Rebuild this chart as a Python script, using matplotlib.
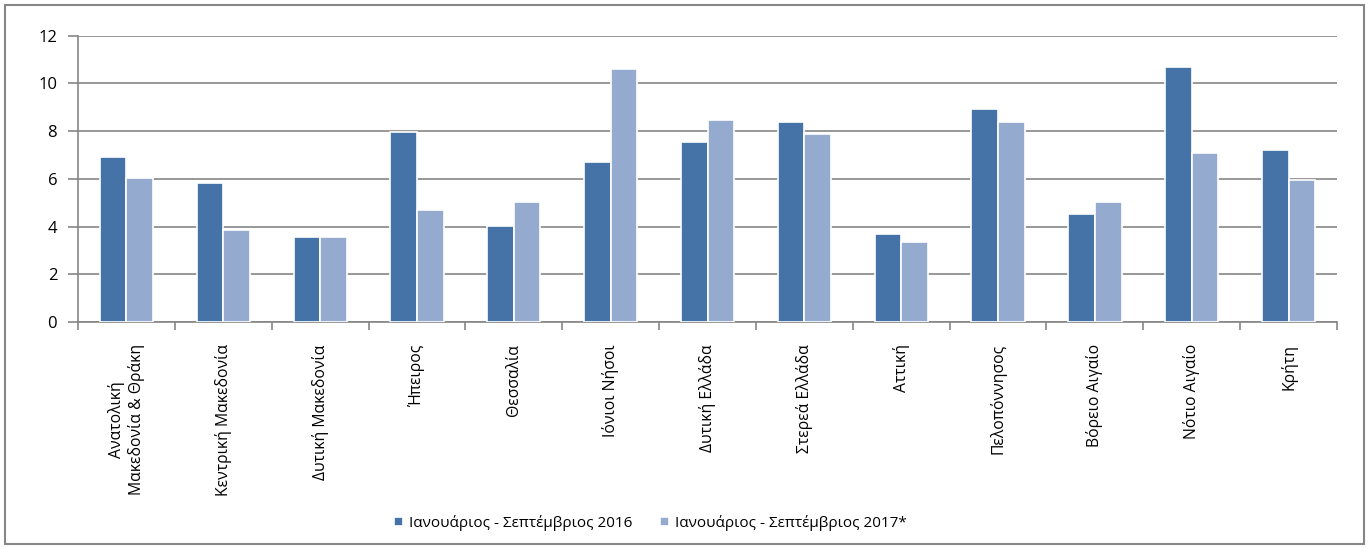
import numpy as np
import matplotlib.pyplot as plt
from matplotlib.patches import Rectangle

regions = ["Ανατολική\nΜακεδονία & Θράκη", "Κεντρική Μακεδονία", "Δυτική Μακεδονία",
           "Ήπειρος", "Θεσσαλία", "Ιόνιοι Νήσοι", "Δυτική Ελλάδα", "Στερεά Ελλάδα",
           "Αττική", "Πελοπόννησος", "Βόρειο Αιγαίο", "Νότιο Αιγαίο", "Κρήτη"]
v2016 = [6.9, 5.82, 3.58, 7.95, 4.03, 6.72, 7.56, 8.39, 3.68, 8.91, 4.52, 10.70, 7.21]
v2017 = [6.05, 3.87, 3.58, 4.69, 5.01, 10.61, 8.47, 7.86, 3.34, 8.37, 5.03, 7.10, 5.95]
labels = ["Ιανουάριος - Σεπτέμβριος 2016", "Ιανουάριος - Σεπτέμβριος 2017*"]

plt.rcParams['font.family'] = ['Open Sans', 'DejaVu Sans']

fig = plt.figure(figsize=(13.72, 5.48), dpi=100)
ax = fig.add_axes([0.0569, 0.4124, 0.9176, 0.5225])

x = np.arange(len(regions))
w = 0.275
ax.bar(x - w/2, v2016, w, color='#4572A7', edgecolor='white', linewidth=1.2, label=labels[0], zorder=3)
ax.bar(x + w/2, v2017, w, color='#95AACF', edgecolor='white', linewidth=1.2, label=labels[1], zorder=3)

ax.set_xlim(-0.5, len(regions) - 0.5)
ax.set_ylim(0, 12)
ax.set_yticks(np.arange(0, 13, 2))
ax.yaxis.grid(True, color='#868686', linewidth=1.2, zorder=0)
ax.tick_params(axis='y', length=7, color='#868686', width=1.2, labelsize=12, pad=8)

ax.set_xticks(x)
ax.set_xticklabels(regions, rotation=90, fontsize=11.3, ha='center', va='top', multialignment='center')
ax.tick_params(axis='x', length=0, pad=16)
ax.set_xticks(np.arange(-0.5, len(regions)), minor=True)
ax.tick_params(axis='x', which='minor', length=6, color='#868686', width=1.2)

for s in ['top', 'right']:
    ax.spines[s].set_visible(False)
for s in ['left', 'bottom']:
    ax.spines[s].set_color('#868686')
    ax.spines[s].set_linewidth(1.2)

ax.legend(loc='center', bbox_to_anchor=(0.474, 0.046), bbox_transform=fig.transFigure,
          ncol=2, frameon=False, fontsize=11, handlelength=0.6, handleheight=0.6,
          handletextpad=0.4, columnspacing=1.8)

fig.patches.append(Rectangle((0.004, 0.008), 0.99, 0.982, transform=fig.transFigure,
                             fill=False, edgecolor='#868686', linewidth=1.5))

fig.savefig('out.png', dpi=100)
